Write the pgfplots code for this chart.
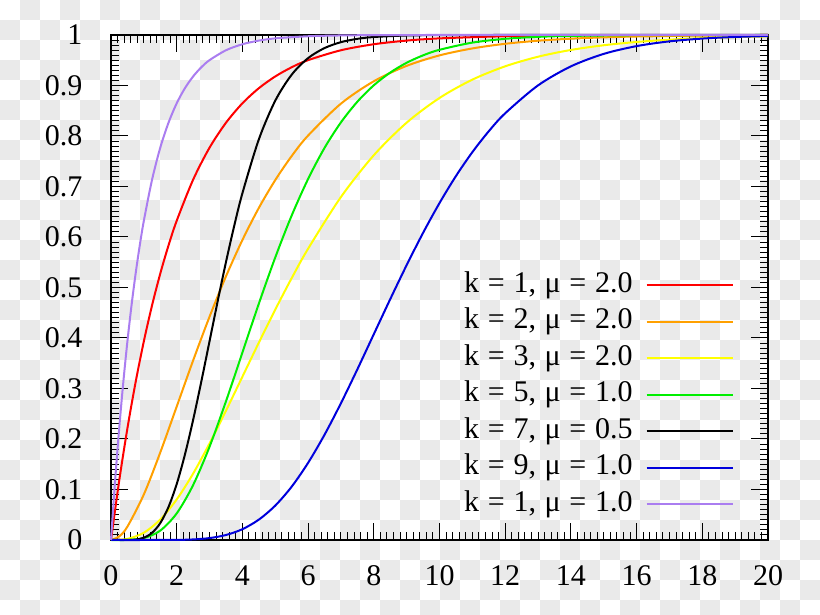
\documentclass[border=0pt]{standalone}
\usepackage{fontspec}
\setmainfont{Liberation Serif}
\usepackage{pgfplots}
\pgfplotsset{compat=1.18}
\definecolor{cgray}{RGB}{234,234,234}
\definecolor{corange}{RGB}{255,160,0}
\definecolor{cyellow}{RGB}{255,255,0}
\definecolor{cgreen}{RGB}{0,238,0}
\definecolor{cblue}{RGB}{0,0,220}
\definecolor{cpurple}{RGB}{170,125,240}
\newcommand\legtext[1]{{\spaceskip=0.29em\relax #1}}
\begin{document}
\begin{tikzpicture}[x=1pt,y=1pt]
\useasboundingbox (-111,-75) rectangle (709,540);
\fill[white] (-111,-75) rectangle (709,540);
\foreach \i in {0,2,...,40}{
  \foreach \j in {1,3,...,29}{
    \fill[cgray] (20*\i-111,540-20*\j) rectangle ++(20,-20);
  }
}
\foreach \i in {1,3,...,39}{
  \foreach \j in {0,2,...,30}{
    \fill[cgray] (20*\i-111,540-20*\j) rectangle ++(20,-20);
  }
}
\begin{axis}[
  at={(0,0)}, anchor=south west,
  scale only axis, width=657pt, height=505pt,
  xmin=0, xmax=20, ymin=0, ymax=1,
  clip=false,
  xtick={0,2,4,6,8,10,12,14,16,18,20},
  xticklabels={0,2,4,6,8,10,12,14,16,18,20},
  ytick={0,0.1,0.2,0.3,0.4,0.5,0.6,0.7,0.8,0.9,1},
  yticklabels={0,0.1,0.2,0.3,0.4,0.5,0.6,0.7,0.8,0.9,1},
  minor x tick num=9, minor y tick num=9,
  tick align=inside,
  major tick length=17pt, minor tick length=8pt,
  every tick/.style={black, line width=1pt},
  axis line style={line width=1.6pt},
  tick label style={font=\fontsize{30}{30}\selectfont},
  xticklabel style={yshift=-22pt},
  yticklabel style={xshift=-25pt},
  /pgf/number format/assume math mode=true,
  legend style={draw=none, fill=none, at={(0.948,0.288)}, anchor=east,
    font=\fontsize{30}{30}\selectfont, inner sep=0pt,
    nodes={inner sep=0pt, text height=21pt, text depth=7pt},
    row sep=8.5pt, column sep=13pt},
  legend cell align=right,
  legend plot pos=right,
  legend image code/.code={\draw[#1] (0pt,0pt) -- (86pt,0pt);},
]
\addplot[red, line width=2pt, smooth] coordinates {
(0,0)(0.25,0.1175)(0.5,0.2212)(0.75,0.3127)(1,0.3935)(1.25,0.4647)(1.5,0.5276)(1.75,0.5831)(2,0.6321)(2.5,0.7135)(3,0.7769)(3.5,0.8262)(4,0.8647)(4.5,0.8946)(5,0.9179)(5.5,0.9361)(6,0.9502)(7,0.9698)(8,0.9817)(9,0.9889)(10,0.9933)(12,0.9975)(14,0.9991)(16,0.9997)(20,1.0)};
\addlegendentry{\legtext{k = 1, μ = 2.0}}
\addplot[corange, line width=2pt, smooth] coordinates {
(0,0)(0.25,0.0072)(0.5,0.0265)(1,0.0902)(1.5,0.1734)(2,0.2642)(2.5,0.3554)(3,0.4422)(3.5,0.5221)(4,0.5940)(4.5,0.6575)(5,0.7127)(5.5,0.7603)(6,0.8009)(7,0.8641)(8,0.9084)(9,0.9389)(10,0.9596)(11,0.9734)(12,0.9826)(13,0.9887)(14,0.9927)(15,0.9953)(16,0.9970)(18,0.9988)(20,0.9995)};
\addlegendentry{\legtext{k = 2, μ = 2.0}}
\addplot[cyellow, line width=2pt, smooth] coordinates {
(0,0)(0.5,0.0022)(1,0.0144)(1.5,0.0405)(2,0.0803)(2.5,0.1315)(3,0.1912)(3.5,0.2560)(4,0.3233)(4.5,0.3907)(5,0.4562)(5.5,0.5185)(6,0.5768)(7,0.6792)(8,0.7619)(9,0.8264)(10,0.8753)(11,0.9116)(12,0.9380)(13,0.9570)(14,0.9704)(15,0.9797)(16,0.9862)(17,0.9907)(18,0.9938)(19,0.9958)(20,0.9972)};
\addlegendentry{\legtext{k = 3, μ = 2.0}}
\addplot[cgreen, line width=2pt, smooth] coordinates {
(0,0)(0.5,0.0002)(1,0.0037)(1.5,0.0186)(2,0.0527)(2.5,0.1088)(3,0.1847)(3.5,0.2746)(4,0.3712)(4.5,0.4679)(5,0.5595)(5.5,0.6425)(6,0.7149)(6.5,0.7764)(7,0.8270)(7.5,0.8679)(8,0.9004)(8.5,0.9256)(9,0.9450)(9.5,0.9597)(10,0.9707)(11,0.9849)(12,0.9924)(13,0.9963)(14,0.9982)(16,0.9996)(18,0.9999)(20,1.0)};
\addlegendentry{\legtext{k = 5, μ = 1.0}}
\addplot[black, line width=2pt, smooth] coordinates {
(0,0)(0.5,0.0001)(0.75,0.0009)(1,0.0045)(1.25,0.0142)(1.5,0.0335)(1.75,0.0653)(2,0.1107)(2.25,0.1690)(2.5,0.2378)(2.75,0.3140)(3,0.3937)(3.25,0.4735)(3.5,0.5503)(3.75,0.6218)(4,0.6866)(4.5,0.7932)(5,0.8699)(5.5,0.9214)(6,0.9542)(6.5,0.9741)(7,0.9858)(7.5,0.9924)(8,0.9960)(9,0.9990)(10,0.9997)(12,1.0)(20,1.0)};
\addlegendentry{\legtext{k = 7, μ = 0.5}}
\addplot[cblue, line width=2pt, smooth] coordinates {
(0,0)(1,0)(2,0.0002)(2.5,0.0011)(3,0.0038)(3.5,0.0099)(4,0.0214)(4.5,0.0403)(5,0.0681)(5.5,0.1056)(6,0.1528)(6.5,0.2084)(7,0.2709)(7.5,0.3380)(8,0.4075)(8.5,0.4769)(9,0.5443)(9.5,0.6082)(10,0.6672)(10.5,0.7206)(11,0.7680)(11.5,0.8094)(12,0.8450)(13,0.9002)(14,0.9379)(15,0.9626)(16,0.9780)(17,0.9874)(18,0.9929)(19,0.9961)(20,0.9979)};
\addlegendentry{\legtext{k = 9, μ = 1.0}}
\addplot[cpurple, line width=2pt, smooth] coordinates {
(0,0)(0.125,0.1175)(0.25,0.2212)(0.375,0.3127)(0.5,0.3935)(0.625,0.4647)(0.75,0.5276)(0.875,0.5831)(1,0.6321)(1.25,0.7135)(1.5,0.7769)(1.75,0.8262)(2,0.8647)(2.25,0.8946)(2.5,0.9179)(2.75,0.9361)(3,0.9502)(3.5,0.9698)(4,0.9817)(4.5,0.9889)(5,0.9933)(6,0.9975)(7,0.9991)(8,0.9997)(10,1.0)(20,1.0)};
\addlegendentry{\legtext{k = 1, μ = 1.0}}
\end{axis}
\end{tikzpicture}
\end{document}
